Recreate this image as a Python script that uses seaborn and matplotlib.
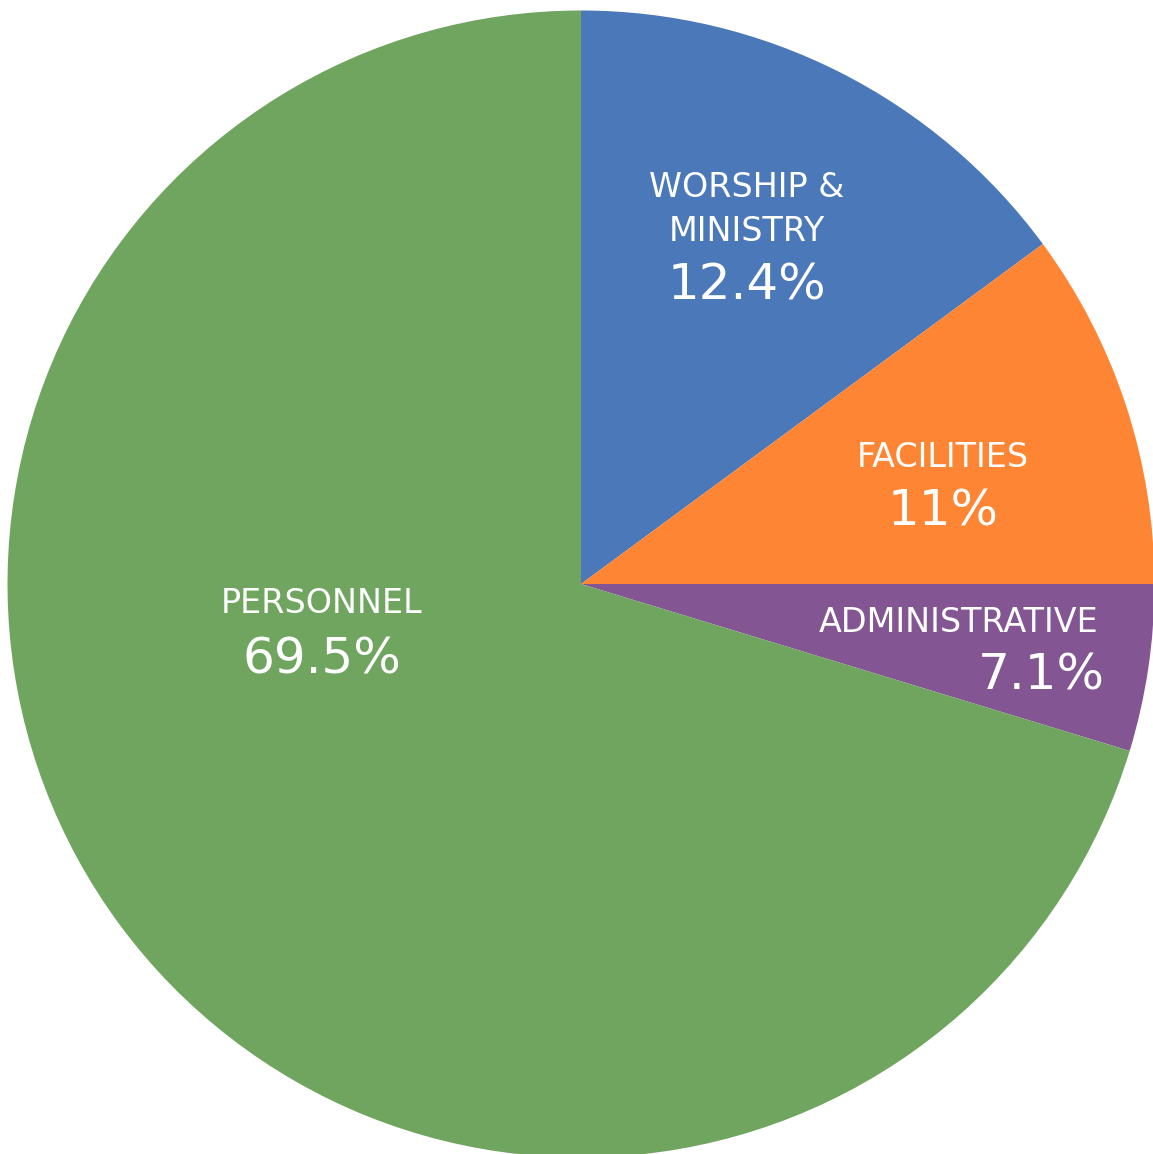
import matplotlib
matplotlib.use("Agg")
import matplotlib.pyplot as plt
import seaborn as sns

# Datos del gráfico (tamaños de las porciones, etiquetas tal cual)
categorias = ["WORSHIP &\nMINISTRY", "FACILITIES", "ADMINISTRATIVE", "PERSONNEL"]
porciones = [14.9, 10.1, 4.7, 70.3]
etiquetas_pct = ["12.4%", "11%", "7.1%", "69.5%"]
colores = ["#4A78B8", "#FE8533", "#835592", "#6FA55F"]

sns.set_theme(style="white")
plt.rcParams['font.family'] = ['DejaVu Sans']

W, H = 1153, 1154
fig = plt.figure(figsize=(W / 100, H / 100), dpi=100)
ax = fig.add_axes([0, 0, 1, 1])

# Pastel en coordenadas de pixel, empezando arriba y en sentido horario
ax.pie(porciones, colors=colores, startangle=90, counterclock=False,
       center=(581, H - 584), radius=573.5,
       wedgeprops=dict(linewidth=0, antialiased=True))
ax.set_xlim(0, W)
ax.set_ylim(0, H)
ax.set_aspect('equal')
ax.axis('off')

# Posiciones de las etiquetas (centro x, linea base de la ultima linea del nombre, linea base del %)
pos = [(747, 241, 300), (943, 467, 526), (959, 632, 690), (322, 613, 673)]
ha_pct = ['center', 'center', 'right', 'center']
for cat, pct, (x, yb, yp), ha in zip(categorias, etiquetas_pct, pos, ha_pct):
    lineas = cat.split('\n')
    for i, linea in enumerate(lineas):
        yl = yb - 44 * (len(lineas) - 1 - i)
        ax.text(x, H - yl, linea, color='white', fontsize=24, ha='center', va='baseline')
    xp = 1105 if ha == 'right' else x
    ax.text(xp, H - yp, pct, color='white', fontsize=36, ha=ha, va='baseline')

fig.savefig("out.png", dpi=100, facecolor='white')
